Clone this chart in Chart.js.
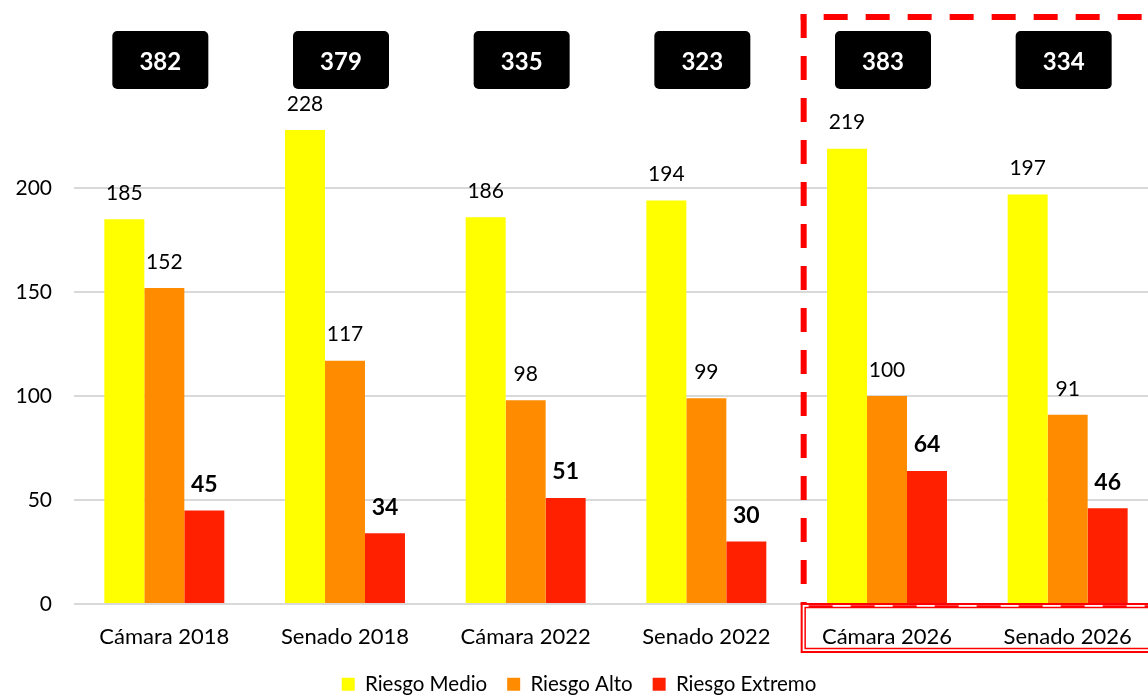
<!DOCTYPE html>
<html><head><meta charset="utf-8">
<script src="https://cdn.jsdelivr.net/npm/chart.js@4/dist/chart.umd.min.js"></script>
<style>
html,body{margin:0;padding:0;background:#fff;overflow:hidden;}
#wrap{width:1160px;height:695px;position:relative;}
</style></head><body>
<div id="wrap"><canvas id="c" width="1160" height="695"></canvas></div>
<script>
const categories = ['Cámara 2018','Senado 2018','Cámara 2022','Senado 2022','Cámara 2026','Senado 2026'];
const riesgoMedio = [185,228,186,194,219,197];
const riesgoAlto = [152,117,98,99,100,91];
const riesgoExtremo = [45,34,51,30,64,46];
const yTickValues = [0,50,100,150,200];
const seriesNames = ['Riesgo Medio','Riesgo Alto','Riesgo Extremo'];
const highlightedFrom = 'Cámara 2026';

const totals = categories.map((_, i) => riesgoMedio[i] + riesgoAlto[i] + riesgoExtremo[i]);
const FONT = 'Lato';

const labelsPlugin = {
  id: 'valueLabels',
  afterDatasetsDraw(chart) {
    const ctx = chart.ctx;
    ctx.save();
    ctx.textAlign = 'center';
    ctx.textBaseline = 'middle';
    chart.data.datasets.forEach((ds, i) => {
      const meta = chart.getDatasetMeta(i);
      ctx.font = (i === 2 ? 'bold 23px ' : '21px ') + FONT;
      ctx.fillStyle = '#000';
      meta.data.forEach((bar, j) => {
        ctx.fillText(String(ds.data[j]), bar.x, bar.y - 26);
      });
    });
    const xs = chart.scales.x;
    totals.forEach((t, j) => {
      const cx = xs.getPixelForValue(j) - 4;
      const cy = 60, w = 96, h = 58;
      ctx.fillStyle = '#000';
      ctx.beginPath();
      ctx.roundRect(cx - w / 2, cy - h / 2, w, h, 5);
      ctx.fill();
      ctx.fillStyle = '#fff';
      ctx.font = 'bold 24px ' + FONT;
      ctx.fillText(String(t), cx, cy + 2);
    });
    ctx.restore();
  },
  afterDraw(chart) {
    const ctx = chart.ctx;
    const xs = chart.scales.x;
    const area = chart.chartArea;
    const k = categories.indexOf(highlightedFrom);
    const left = (xs.getPixelForValue(k - 1) + xs.getPixelForValue(k)) / 2 + 7;
    const right = chart.width + 10;
    const top = 17;
    const bottom = area.bottom;
    ctx.save();
    ctx.strokeStyle = '#FF0000';
    ctx.lineWidth = 2;
    ctx.strokeRect(left - 2, bottom, right - left + 2, 48);
    ctx.lineWidth = 1.5;
    ctx.strokeRect(left + 1.5, bottom + 3.5, right - left, 41);
    ctx.setLineDash([24, 18]);
    ctx.lineWidth = 2.5;
    ctx.beginPath();
    ctx.moveTo(left + 5, bottom + 2.5);
    ctx.lineTo(right, bottom + 2.5);
    ctx.stroke();
    ctx.lineWidth = 6;
    ctx.beginPath();
    ctx.lineDashOffset = 0;
    ctx.moveTo(left, top - 3);
    ctx.lineTo(left, bottom + 1);
    ctx.stroke();
    ctx.beginPath();
    ctx.lineDashOffset = 19;
    ctx.moveTo(left - 3, top);
    ctx.lineTo(right, top);
    ctx.stroke();
    ctx.restore();
  }
};

new Chart(document.getElementById('c'), {
  type: 'bar',
  data: {
    labels: categories,
    datasets: [
      { label: seriesNames[0], data: riesgoMedio, backgroundColor: '#FFFF00' },
      { label: seriesNames[1], data: riesgoAlto, backgroundColor: '#FF8C00' },
      { label: seriesNames[2], data: riesgoExtremo, backgroundColor: '#FF2000' }
    ]
  },
  options: {
    responsive: false,
    animation: false,
    devicePixelRatio: 1,
    layout: { padding: { left: 0, right: 2, top: 1, bottom: 0 } },
    datasets: { bar: { categoryPercentage: 0.664, barPercentage: 1.0 } },
    plugins: {
      legend: {
        position: 'bottom',
        maxHeight: 41,
        labels: {
          boxWidth: 13, boxHeight: 13, padding: 20,
          color: '#000',
          font: { family: FONT, size: 20.5 }
        }
      },
      tooltip: { enabled: false },
      title: { display: false }
    },
    scales: {
      x: {
        grid: { display: false, drawTicks: false },
        border: { display: false },
        ticks: { color: '#000', padding: 20, font: { family: FONT, size: 22 }, maxRotation: 0 },
        afterFit(s) { s.height = 50; s.paddingLeft = 0; s.paddingRight = 0; }
      },
      y: {
        min: 0, max: 290,
        border: { display: false },
        grid: { color: '#d9d9d9', lineWidth: 2, drawTicks: false },
        ticks: { color: '#000', padding: 22, font: { family: FONT, size: 21 } },
        afterBuildTicks(s) { s.ticks = yTickValues.map(v => ({ value: v })); },
        afterFit(s) { s.width = 74; s.paddingTop = 0; s.paddingBottom = 0; }
      }
    }
  },
  plugins: [labelsPlugin]
});
</script>
</body></html>
